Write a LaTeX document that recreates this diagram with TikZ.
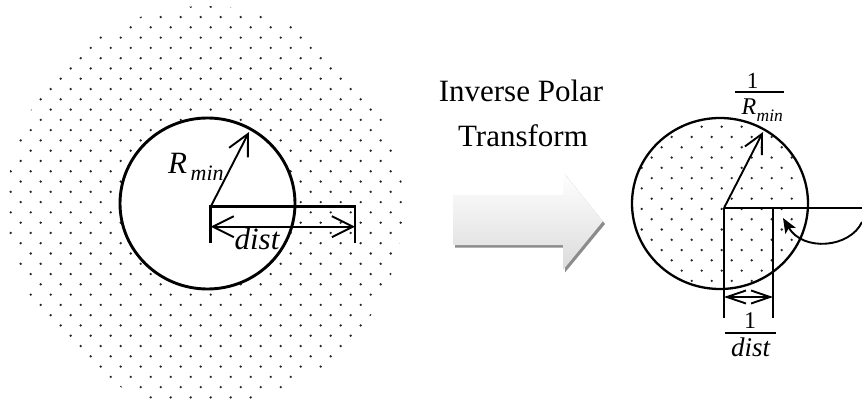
\documentclass[tikz,border=0pt]{standalone}
\usepackage{fontspec}
\setmainfont{Liberation Serif}
\usetikzlibrary{arrows.meta,calc}
\tikzset{
  bigbarb/.tip={Straight Barb[length=21pt,width=21pt,line width=1.9pt]},
  medbarb/.tip={Straight Barb[length=19pt,width=19pt,line width=1.9pt]},
  smallbarb/.tip={Straight Barb[length=19pt,width=13pt,line width=1.9pt]},
}
\begin{document}
\begin{tikzpicture}[x=1pt,y=-1pt,
  thickline/.style={line width=2.9pt},
  midline/.style={line width=2.3pt},
  thinline/.style={line width=1.9pt},
  dotmark/.style={fill=black!85},
  lbl/.style={inner sep=0pt, anchor=base},
]
\useasboundingbox (0,0) rectangle (862,406);
% ---------- left dotted field ----------
\begin{scope}[even odd rule]
  \clip (205,206) ellipse [x radius=198pt, y radius=200pt]
        (207.5,203.5) ellipse [x radius=87.5pt, y radius=85.5pt];
  \foreach \j in {-15,...,25}{
    \pgfmathsetmacro\yy{150.7+10.28*\j}
    \pgfmathsetmacro\off{mod(abs(\j),2)==0 ? 10 : 0}
    \foreach \i in {-1,...,20}{
      \fill[dotmark] ({0.7+20*\i+\off},\yy) circle[radius=1.3pt];
    }
  }
\end{scope}
% ---------- right dotted disc ----------
\begin{scope}
  \clip (720,203.5) ellipse [x radius=88pt, y radius=85.5pt];
  \foreach \j in {-1,...,17}{
    \pgfmathsetmacro\yy{126.7+10.28*\j}
    \pgfmathsetmacro\off{mod(abs(\j),2)==1 ? 10 : 0}
    \foreach \i in {-2,...,5}{
      \fill[dotmark] ({681.7+20*\i+\off},\yy) circle[radius=1.3pt];
    }
  }
\end{scope}
% ---------- left figure ----------
\draw[thickline] (207.5,203.5) ellipse [x radius=87.5pt, y radius=85.5pt];
\coordinate (lc) at (210.7,206.7);
\coordinate (lr) at (249,132);
\coordinate (lbr) at (355,206.7);
\coordinate (lbl1) at (210.7,243);
\coordinate (lbr1) at (355,243);
\coordinate (la1) at (210.7,226.7);
\coordinate (la2) at (355,226.7);
\draw[thinline,-bigbarb] (lc) -- (lr);
\draw[thickline] (lbl1) -- (lc) -- (lbr) -- (lbr1);
\draw[thinline,bigbarb-bigbarb] (la1) -- (la2);
\node[lbl,anchor=base west] (rmin) at (168,174) {\fontsize{31}{32}\selectfont\itshape R};
\node[lbl,anchor=base west] (rminsub) at (190.5,180.5) {\fontsize{22}{23}\selectfont\itshape min};
\node[lbl] (dist) at (257,250) {\fontsize{31}{32}\selectfont\itshape dist};
% ---------- middle ----------
\node[lbl] (t1) at (521,101.5) {\fontsize{31}{32}\selectfont Inverse Polar};
\node[lbl] (t2) at (523,146.5) {\fontsize{31}{32}\selectfont Transform};
\fill[black!45] (455,197.5) -- (565,197.5) -- (565,174.5) -- (605,224) -- (565,272.5) -- (565,247.5) -- (455,247.5) -- cycle;
\shade[top color=white, bottom color=black!14] (453,195) -- (563,195) -- (563,172) -- (603,221) -- (563,270) -- (563,245) -- (453,245) -- cycle;
% ---------- right figure ----------
\draw[midline] (720,203.5) ellipse [x radius=88pt, y radius=85.5pt];
\coordinate (rc) at (724,208);
\coordinate (rr) at (763,132);
\coordinate (rh) at (862,208);
\coordinate (rv1) at (724,318);
\coordinate (rv2t) at (773,208);
\coordinate (rv2) at (773,318);
\coordinate (ra1) at (724,297);
\coordinate (ra2) at (773,297);
\draw[thinline,-medbarb] (rc) -- (rr);
\draw[midline] (rc) -- (rh);
\draw[midline] (rc) -- (rv1);
\draw[midline] (rv2t) -- (rv2);
\draw[thinline,smallbarb-smallbarb] (ra1) -- (ra2);
\coordinate (cs) at (862,222);
\coordinate (ct) at (783,218);
\draw[thinline,-{Stealth[length=15pt,width=12pt,inset=3.5pt]}] (cs) .. controls (850,248) and (803,252) .. (ct);
% fractions
\node[lbl] (f1n) at (752.5,88.5) {\fontsize{23}{24}\selectfont 1};
\draw[line width=1.5pt] (735,92) -- (784,92);
\node[lbl,anchor=base west] (f1d) at (741.5,115) {\fontsize{24}{25}\selectfont\itshape R};
\node[lbl,anchor=base west] (f1s) at (756.5,121.5) {\fontsize{17.5}{18}\selectfont\itshape min};
\node[lbl] (f2n) at (750,328.5) {\fontsize{24}{25}\selectfont 1};
\draw[line width=1.5pt] (725,333) -- (776,333);
\node[lbl] (f2d) at (750.5,356) {\fontsize{27}{28}\selectfont\itshape dist};
\end{tikzpicture}
\end{document}
